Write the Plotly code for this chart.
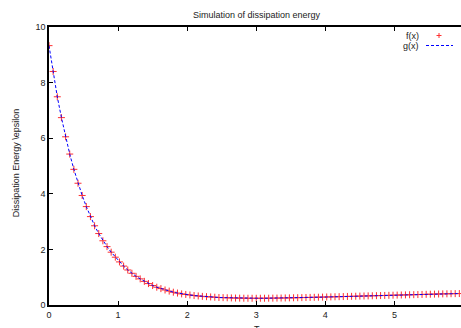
import plotly.graph_objects as go

x_values = [round(i * 0.06, 2) for i in range(100)]

f_values = [
    9.33, 8.40, 7.49, 6.74, 6.05, 5.43, 4.88, 4.38, 3.94, 3.54,
    3.18, 2.85, 2.57, 2.31, 2.10, 1.90, 1.72, 1.55, 1.40, 1.26,
    1.14, 1.03, 0.94, 0.85, 0.77, 0.70, 0.64, 0.59, 0.54, 0.50,
    0.46, 0.43, 0.40, 0.38, 0.36, 0.34, 0.325, 0.31, 0.30, 0.29,
    0.28, 0.27, 0.265, 0.26, 0.255, 0.25, 0.248, 0.245, 0.243, 0.242,
    0.242, 0.243, 0.244, 0.245, 0.247, 0.249, 0.251, 0.254, 0.257, 0.26,
    0.263, 0.266, 0.27, 0.273, 0.277, 0.28, 0.284, 0.288, 0.292, 0.296,
    0.30, 0.304, 0.308, 0.312, 0.316, 0.32, 0.324, 0.328, 0.332, 0.336,
    0.34, 0.344, 0.348, 0.352, 0.356, 0.36, 0.364, 0.368, 0.372, 0.376,
    0.38, 0.384, 0.388, 0.392, 0.396, 0.40, 0.403, 0.406, 0.409, 0.412,
]
g_values = list(f_values)

x_ticks = [0, 1, 2, 3, 4, 5]
y_ticks = [0, 2, 4, 6, 8, 10]

FONT = "Liberation Sans, Arial, sans-serif"
W, H = 461, 328
L, R, T, B = 49, 0, 27, 23
PW, PH = W - L - R, H - T - B

def px(xp):
    return (xp - L) / PW

def py(yp):
    return (H - B - yp) / PH

fig = go.Figure()
fig.add_trace(go.Scatter(
    x=x_values, y=f_values, mode="markers", name="f(x)",
    marker=dict(symbol="cross-thin-open", size=5, color="#ff3030",
                line=dict(color="#ff3030", width=1)),
    showlegend=False,
))
fig.add_trace(go.Scatter(
    x=x_values, y=g_values, mode="lines", name="g(x)",
    line=dict(color="#0000ff", width=1, dash="3px,2px"), showlegend=False,
))

axis_common = dict(
    showgrid=False, zeroline=False, showline=True, linecolor="black", linewidth=1.5,
    ticks="inside", ticklen=4, tickwidth=1, tickcolor="black",
    tickfont=dict(family=FONT, size=9, color="#222222"),
)

fig.update_layout(
    width=W, height=H,
    margin=dict(l=L, r=R, t=T, b=B, pad=0),
    paper_bgcolor="white", plot_bgcolor="white",
    xaxis=dict(range=[0, 5.964], tickvals=x_ticks, mirror="ticks", **axis_common),
    yaxis=dict(range=[0, 10], tickvals=y_ticks, **axis_common),
    showlegend=False,
    annotations=[
        dict(text="Simulation of dissipation energy", xref="paper", yref="paper",
             x=px(256.5), y=py(14.5), xanchor="center", yanchor="middle", showarrow=False,
             font=dict(family=FONT, size=9, color="#222222")),
        dict(text="Dissipation Energy \\epsilon", xref="paper", yref="paper",
             x=px(16.3), y=py(163), xanchor="center", yanchor="middle", showarrow=False,
             textangle=-90, font=dict(family=FONT, size=9, color="#222222")),
        dict(text="T", xref="paper", yref="paper",
             x=px(256.5), y=py(321.5), xanchor="center", yanchor="top", showarrow=False,
             font=dict(family=FONT, size=9, color="#222222")),
        dict(text="f(x)", xref="paper", yref="paper",
             x=px(421), y=py(35.5), xanchor="right", yanchor="middle", showarrow=False,
             font=dict(family=FONT, size=9, color="#222222")),
        dict(text="g(x)", xref="paper", yref="paper",
             x=px(421), y=py(46), xanchor="right", yanchor="middle", showarrow=False,
             font=dict(family=FONT, size=9, color="#222222")),
    ],
    shapes=[
        dict(type="path", xref="paper", yref="paper", xsizemode="pixel", ysizemode="pixel",
             xanchor=px(439), yanchor=py(35.5),
             path="M -2.5,0 L 2.5,0 M 0,-2.5 L 0,2.5", line=dict(color="#ff3030", width=1)),
        dict(type="line", xref="paper", yref="paper",
             x0=px(426), x1=px(453), y0=py(45.5), y1=py(45.5),
             line=dict(color="#0000ff", width=1, dash="3px,2px")),
    ],
)

fig.write_html("out.html", config={"displayModeBar": False},
               post_script="document.body.style.margin='0';document.body.style.overflow='hidden';")
